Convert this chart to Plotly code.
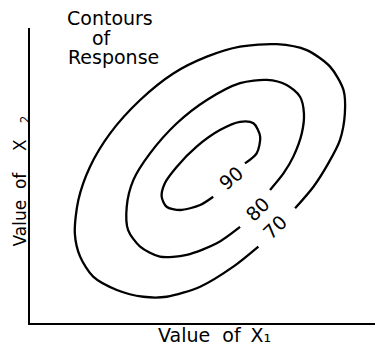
import plotly.graph_objects as go

# Contour levels of the response and the points
levels = [70, 80, 90]

x70 = [64.7, 57.6, 48.2, 38.7, 32.1, 24.6, 17.9, 14.2, 12.7, 13.7, 17.0, 22.7,
       31.2, 40.6, 50.1, 59.5, 69.9, 78.4, 85.0, 88.8, 89.2, 87.8, 84.5, 80.3, 75.1]
y70 = [25.9, 19.1, 12.3, 8.9, 8.9, 11.2, 15.7, 22.5, 30.4, 41.7, 53.0, 64.3,
       75.6, 84.6, 90.3, 93.7, 94.5, 92.5, 86.9, 79.0, 71.1, 62.0, 54.1, 46.2, 38.9]

x80 = [59.5, 52.9, 44.4, 36.8, 31.2, 27.8, 27.4, 29.3, 34.0, 41.6, 50.1, 59.5,
       67.1, 72.7, 76.5, 77.6, 77.0, 74.6, 71.8, 68.0]
y80 = [32.6, 27.0, 23.1, 22.5, 25.9, 31.5, 39.4, 48.5, 57.5, 67.7, 75.6, 81.3,
       82.4, 80.7, 76.7, 71.1, 64.3, 56.4, 50.7, 45.1]

x90 = [51.9, 48.2, 42.5, 38.7, 37.3, 38.2, 41.6, 47.2, 53.8, 59.5, 63.3, 65.2, 64.2, 60.9]
y90 = [42.8, 40.0, 38.3, 39.4, 42.8, 47.4, 53.0, 59.8, 65.4, 68.2, 67.7, 63.2, 57.5, 54.1]

# Where each level label sits on its curve
label_x = [69.4, 64.4, 56.9]
label_y = [32.4, 38.8, 49.1]
label_angle = [-44, -44, -40]

title_lines = ["Contours", "of", "Response"]

font = "DejaVu Sans"
sp = "\u00a0"

fig = go.Figure()
for xs, ys in [(x70, y70), (x80, y80), (x90, y90)]:
    fig.add_trace(go.Scatter(
        x=xs, y=ys, mode="lines",
        line=dict(color="black", width=2.3, shape="spline", smoothing=0.8),
        hoverinfo="skip", showlegend=False,
    ))

for lv, lx, ly, ang in zip(levels, label_x, label_y, label_angle):
    fig.add_annotation(x=lx, y=ly, text=str(lv), showarrow=False,
                       textangle=ang, font=dict(family=font, size=19, color="black"))

# Title block sits in the top-left corner, one annotation per line
for txt, tx, ty in zip(title_lines, [0.227, 0.203, 0.236], [1.0325, 0.966, 0.9]):
    fig.add_annotation(x=tx, y=ty, xref="paper", yref="paper",
                       xanchor="center", yanchor="middle",
                       text=txt, showarrow=False,
                       font=dict(family=font, size=19, color="black"))

# Axis titles as annotations so the plot area stays put
fig.add_annotation(x=0.5236, y=-0.039, xref="paper", yref="paper",
                   xanchor="center", yanchor="middle",
                   text="Value" + sp * 2 + "of" + sp + "\u2009X\u2081",
                   showarrow=False, font=dict(family=font, size=19, color="black"))
fig.add_annotation(x=-0.025, y=0.48, xref="paper", yref="paper",
                   xanchor="center", yanchor="middle", textangle=-90,
                   text="Value" + sp * 2 + "of" + sp * 4 + "X" + sp * 3 + "<sub>2</sub>",
                   showarrow=False, font=dict(family=font, size=17, color="black"))

fig.update_xaxes(range=[0, 100], showline=True, linecolor="black", linewidth=2,
                 showgrid=False, zeroline=False, showticklabels=False, ticks="")
fig.update_yaxes(range=[0, 100], showline=True, linecolor="black", linewidth=2,
                 showgrid=False, zeroline=False, showticklabels=False, ticks="")

# The page adds an 8px body margin, so the figure is sized to fit inside it
fig.update_layout(
    width=375, height=335,
    margin=dict(l=22, r=0, t=20, b=20),
    plot_bgcolor="white", paper_bgcolor="white",
)

fig.write_html("out.html")
